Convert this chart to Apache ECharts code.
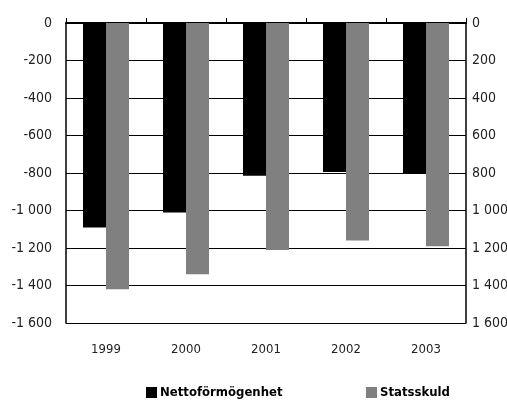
<!DOCTYPE html>
<html>
<head>
<meta charset="utf-8">
<script src="https://cdn.jsdelivr.net/npm/echarts@6/dist/echarts.min.js"></script>
<style>
  html, body { margin: 0; padding: 0; background: #fff; overflow: hidden; }
  #chart { width: 507px; height: 403px; }
</style>
</head>
<body>
<div id="chart"></div>
<script>
// Years on the category axis
const years = ['1999', '2000', '2001', '2002', '2003'];
// Net wealth (left axis, negative, mdr kr)
const nettoformogenhet = [-1090, -1010, -815, -795, -800];
// Government debt (right axis, drawn downward)
const statsskuld = [1420, 1340, 1210, 1160, 1190];
// Axis ranges
const leftMin = -1600, leftMax = 0, rightMin = 0, rightMax = 1600, step = 200;

const FONT = '"Liberation Sans Narrow", "DejaVu Sans Condensed", "Roboto", sans-serif';

// Thousands separated by a space: 1000 -> "1 000"
function fmt(v) {
  const s = String(Math.abs(v)).replace(/\B(?=(\d{3})+(?!\d))/g, ' ');
  return (v < 0 ? '-' : '') + s;
}

const chart = echarts.init(document.getElementById('chart'), null, { renderer: 'canvas', width: 507, height: 403 });

const legendText = { fontFamily: FONT, fontWeight: 'bold', fontSize: 13, color: '#000', padding: [0, 0, 0, -2] };

chart.setOption({
  animation: false,
  backgroundColor: '#ffffff',
  textStyle: { fontFamily: FONT },
  grid: { left: 66, top: 23, width: 400, height: 300, containLabel: false, outerBoundsMode: 'none' },
  legend: [
    {
      data: ['Nettoförmögenhet'],
      left: 146, top: 386, padding: 0,
      itemWidth: 11, itemHeight: 11, icon: 'rect',
      textStyle: legendText
    },
    {
      data: ['Statsskuld'],
      left: 366, top: 386, padding: 0,
      itemWidth: 11, itemHeight: 11, icon: 'rect',
      textStyle: legendText
    }
  ],
  xAxis: [
    {
      type: 'category',
      data: years,
      position: 'bottom',
      axisLine: { show: false },
      axisTick: { show: false },
      axisLabel: { margin: 20, fontSize: 13, color: '#222', fontFamily: FONT },
      splitLine: { show: false }
    },
    {
      type: 'category',
      data: years,
      position: 'top',
      axisLine: { show: true, onZero: false, lineStyle: { color: '#000', width: 2 } },
      axisTick: { show: true, inside: false, length: 5, lineStyle: { color: '#000', width: 1 } },
      axisLabel: { show: false },
      splitLine: { show: false }
    }
  ],
  yAxis: [
    {
      type: 'value',
      position: 'left',
      min: leftMin, max: leftMax, interval: step,
      axisLine: { show: true, onZero: false, lineStyle: { color: '#000', width: 1.5 } },
      axisTick: { show: false },
      axisLabel: { margin: 14, fontSize: 14, color: '#222', fontFamily: FONT, formatter: fmt },
      splitLine: { show: true, lineStyle: { color: '#000', width: 1 } }
    },
    {
      type: 'value',
      position: 'right',
      inverse: true,
      min: rightMin, max: rightMax, interval: step,
      axisLine: { show: true, onZero: false, lineStyle: { color: '#000', width: 1.5 } },
      axisTick: { show: false },
      axisLabel: { margin: 6, fontSize: 14, color: '#222', fontFamily: FONT, formatter: fmt },
      splitLine: { show: false }
    }
  ],
  series: [
    {
      name: 'Nettoförmögenhet',
      type: 'bar',
      xAxisIndex: 0,
      yAxisIndex: 0,
      data: nettoformogenhet,
      barWidth: 23,
      barGap: '0%',
      itemStyle: { color: '#000000' }
    },
    {
      name: 'Statsskuld',
      type: 'bar',
      xAxisIndex: 0,
      yAxisIndex: 1,
      data: statsskuld,
      barWidth: 23,
      barGap: '0%',
      itemStyle: { color: '#808080' }
    }
  ]
});
</script>
</body>
</html>
